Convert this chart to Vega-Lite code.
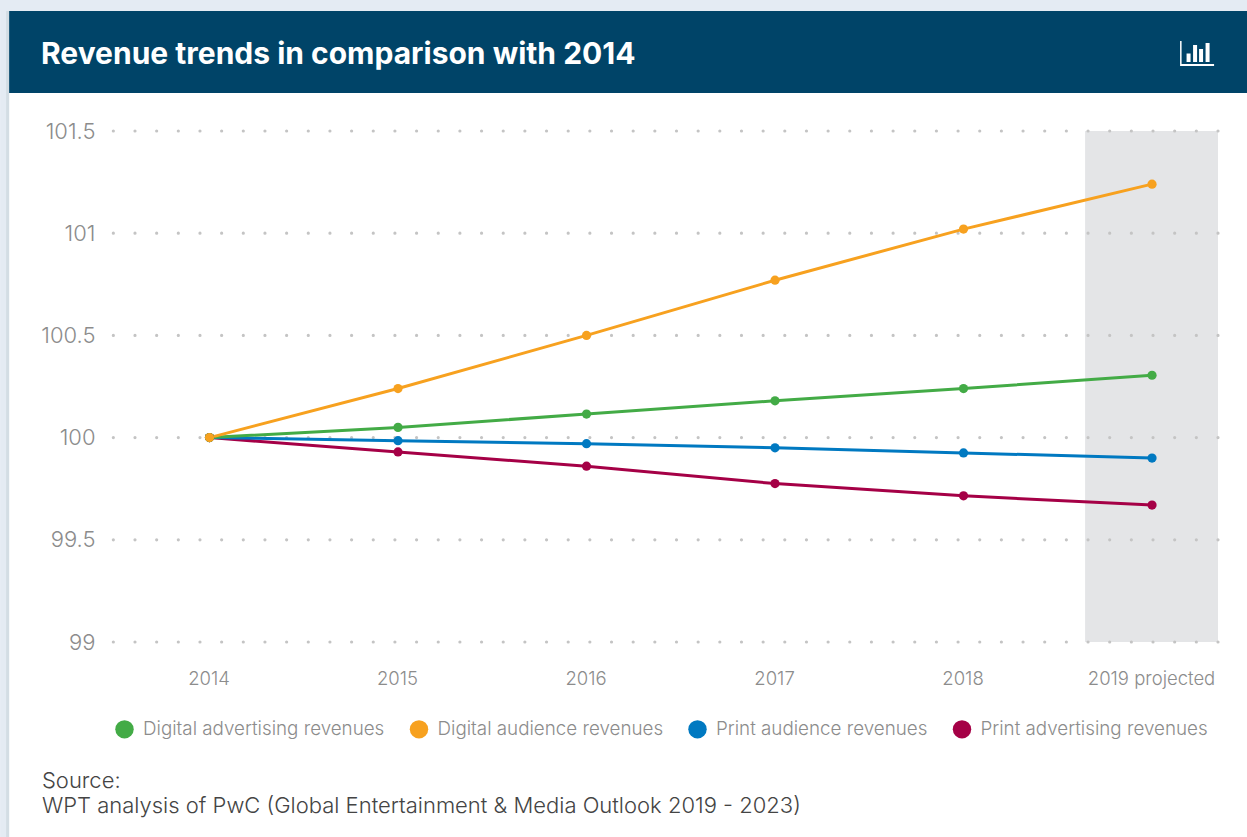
{"$schema":"https://vega.github.io/schema/vega-lite/v6.json","width":1105,"height":511,"autosize":"none","padding":{"left":113,"top":131,"right":29,"bottom":195},"background":"#ffffff",
"title":{"text":"Revenue trends in comparison with 2014","anchor":"start","frame":"group","dx":-72,"offset":-94.5,"baseline":"alphabetic","font":"Inter","fontSize":30,"fontWeight":700,"color":"#ffffff"},
"config":{"view":{"stroke":null},"font":"Inter"},
"datasets":{"series":[
{"year":2014,"value":100,"series":"Print advertising revenues"},{"year":2015,"value":99.93,"series":"Print advertising revenues"},{"year":2016,"value":99.86,"series":"Print advertising revenues"},{"year":2017,"value":99.775,"series":"Print advertising revenues"},{"year":2018,"value":99.715,"series":"Print advertising revenues"},{"year":2019,"value":99.67,"series":"Print advertising revenues"},
{"year":2014,"value":100,"series":"Print audience revenues"},{"year":2015,"value":99.985,"series":"Print audience revenues"},{"year":2016,"value":99.97,"series":"Print audience revenues"},{"year":2017,"value":99.95,"series":"Print audience revenues"},{"year":2018,"value":99.925,"series":"Print audience revenues"},{"year":2019,"value":99.9,"series":"Print audience revenues"},
{"year":2014,"value":100,"series":"Digital advertising revenues"},{"year":2015,"value":100.05,"series":"Digital advertising revenues"},{"year":2016,"value":100.115,"series":"Digital advertising revenues"},{"year":2017,"value":100.18,"series":"Digital advertising revenues"},{"year":2018,"value":100.24,"series":"Digital advertising revenues"},{"year":2019,"value":100.305,"series":"Digital advertising revenues"},
{"year":2014,"value":100,"series":"Digital audience revenues"},{"year":2015,"value":100.24,"series":"Digital audience revenues"},{"year":2016,"value":100.5,"series":"Digital audience revenues"},{"year":2017,"value":100.77,"series":"Digital audience revenues"},{"year":2018,"value":101.02,"series":"Digital audience revenues"},{"year":2019,"value":101.24,"series":"Digital audience revenues"}
],"grid":[{"g":99},{"g":99.5},{"g":100},{"g":100.5},{"g":101},{"g":101.5}]},
"data":{"name":"series"},
"layer":[
{"data":{"values":[{"f":1}]},"mark":{"type":"rect","color":"#e4ebf3"},"encoding":{"x":{"datum":2012.889,"type":"quantitative","scale":{"domain":[2013.488,2019.35],"nice":false,"zero":false},"axis":{"values":[2014,2015,2016,2017,2018,2019],"labelExpr":"datum.value==2019?'2019 projected':format(datum.value,'d')","title":null,"grid":false,"domain":false,"ticks":false,"labelPadding":27.5,"labelOffset":-1,"labelFontSize":18.5,"labelFont":"Inter","labelFontWeight":300,"labelColor":"#8c8c8c"}},"x2":{"datum":2019.504},"y":{"datum":102.141,"type":"quantitative","scale":{"domain":[99,101.5],"nice":false,"zero":false},"axis":{"values":[99,99.5,100,100.5,101,101.5],"format":"~f","title":null,"grid":false,"domain":false,"ticks":false,"labelPadding":18,"labelFontSize":22,"labelFont":"Inter","labelFontWeight":300,"labelColor":"#8c8c8c"}},"y2":{"datum":102.087}}},
{"data":{"values":[{"f":1}]},"mark":{"type":"rect","color":"#e4ebf3"},"encoding":{"x":{"datum":2012.889,"type":"quantitative"},"x2":{"datum":2012.937},"y":{"datum":102.141,"type":"quantitative"},"y2":{"datum":98.046}}},
{"data":{"values":[{"f":1}]},"mark":{"type":"rect","color":"#d3dde4"},"encoding":{"x":{"datum":2012.921,"type":"quantitative"},"x2":{"datum":2012.937},"y":{"datum":102.087,"type":"quantitative"},"y2":{"datum":98.046}}},
{"data":{"values":[{"f":1}]},"mark":{"type":"rect","color":"#004468"},"encoding":{"x":{"datum":2012.937,"type":"quantitative"},"x2":{"datum":2019.504},"y":{"datum":102.087,"type":"quantitative"},"y2":{"datum":101.686}}},
{"data":{"values":[{"f":1}]},"mark":{"type":"point","filled":true,"opacity":1,"color":"#ffffff","size":40000,"shape":"M-.17-.125H-.155V.105H.17V.125H-.17ZM-.105 0H-.065V.085H-.105ZM-.04-.085H0V.085H-.04ZM.02-.045H.06V.085H.02ZM.085-.105H.125V.085H.085Z"},"encoding":{"x":{"datum":2019.239,"type":"quantitative"},"y":{"datum":101.879,"type":"quantitative"}}},
{"data":{"values":[{"f":1}]},"mark":{"type":"rect","color":"#e4e5e7"},"encoding":{"x":{"datum":2018.645,"type":"quantitative"},"x2":{"datum":2019.35},"y":{"datum":99,"type":"quantitative"},"y2":{"datum":101.5}}},
{"data":{"name":"grid"},"mark":{"type":"rule","color":"#c4c4c4","strokeWidth":3.2,"strokeCap":"round","strokeDash":[0,21.66]},"encoding":{"y":{"field":"g","type":"quantitative"}}},
{"mark":{"type":"line","strokeWidth":3,"interpolate":"linear"},"encoding":{"x":{"field":"year","type":"quantitative"},"y":{"field":"value","type":"quantitative"},"color":{"field":"series","type":"nominal","scale":{"domain":["Digital advertising revenues","Digital audience revenues","Print audience revenues","Print advertising revenues"],"range":["#43ab46","#f7a11f","#0079c1","#a50046"]},"legend":{"orient":"none","legendX":2,"legendY":588.5,"direction":"horizontal","columns":4,"title":null,"symbolType":"circle","symbolSize":340,"symbolOpacity":1,"symbolStrokeWidth":0,"labelFont":"Inter","labelFontSize":18.8,"labelFontWeight":300,"labelColor":"#8c8c8c","labelLimit":400,"columnPadding":24.5,"labelOffset":9,"padding":0}}}},
{"mark":{"type":"point","filled":true,"opacity":1,"size":85},"encoding":{"x":{"field":"year","type":"quantitative"},"y":{"field":"value","type":"quantitative"},"color":{"field":"series","type":"nominal"}}},
{"data":{"values":[{"f":1}]},"mark":{"type":"text","text":"Source:","align":"left","baseline":"alphabetic","font":"Inter","fontSize":22,"fontWeight":300,"color":"#444444"},"encoding":{"x":{"datum":2013.111,"type":"quantitative"},"y":{"datum":98.286,"type":"quantitative"}}},
{"data":{"values":[{"f":1}]},"mark":{"type":"text","text":"WPT analysis of PwC (Global Entertainment & Media Outlook 2019 - 2023)","align":"left","baseline":"alphabetic","font":"Inter","fontSize":22,"fontWeight":300,"color":"#444444"},"encoding":{"x":{"datum":2013.111,"type":"quantitative"},"y":{"datum":98.163,"type":"quantitative"}}}
]}
